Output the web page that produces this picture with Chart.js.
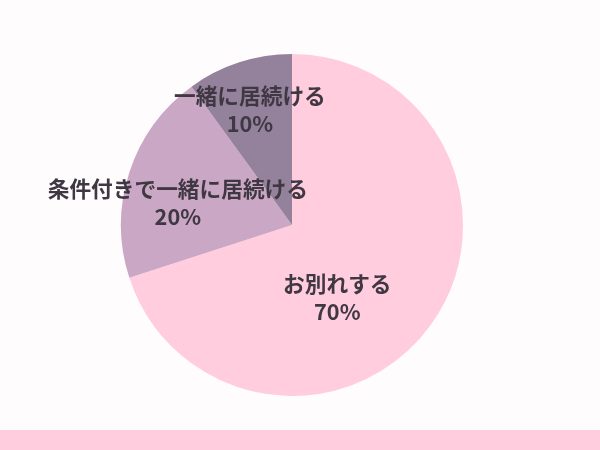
<!DOCTYPE html>
<html>
<head>
<meta charset="utf-8">
<script src="https://cdn.jsdelivr.net/npm/chart.js@4"></script>
<style>
  body { margin: 0; background: #fffcfd; }
  #wrap { width: 600px; height: 430px; position: relative; }
  #band { width: 600px; height: 20px; background: #ffcddd; }
</style>
</head>
<body>
<div id="wrap"><canvas id="pieChart" width="600" height="430"></canvas></div>
<div id="band"></div>
<script>
const categories = ["お別れする", "条件付きで一緒に居続ける", "一緒に居続ける"];
const shares = [70, 20, 10];
const sliceColors = ["#ffcddd", "#c9a7c5", "#94829c"];

// where each label sits, as radius fraction and angle (deg clockwise from top)
const labelSpots = [
  { r: 0.50, a: 148 },
  { r: 0.68, a: -79 },
  { r: 0.72, a: -20 }
];

const sliceLabels = {
  id: 'sliceLabels',
  afterDatasetsDraw(chart) {
    const ctx = chart.ctx;
    const arcs = chart.getDatasetMeta(0).data;
    ctx.save();
    ctx.fillStyle = '#3f3742';
    ctx.font = 'bold 21.7px "Noto Sans CJK JP"';
    ctx.textAlign = 'center';
    ctx.textBaseline = 'middle';
    arcs.forEach((arc, i) => {
      const spot = labelSpots[i];
      const rad = spot.a * Math.PI / 180;
      const x = arc.x + Math.sin(rad) * arc.outerRadius * spot.r;
      const y = arc.y - Math.cos(rad) * arc.outerRadius * spot.r;
      ctx.fillText(categories[i], x, y - 14);
      ctx.fillText(shares[i] + '%', x, y + 14);
    });
    ctx.restore();
  }
};

new Chart(document.getElementById('pieChart').getContext('2d'), {
  type: 'pie',
  data: {
    labels: categories,
    datasets: [{
      data: shares,
      backgroundColor: sliceColors,
      borderWidth: 0
    }]
  },
  options: {
    responsive: false,
    animation: false,
    layout: { padding: { left: 121, right: 137, top: 54, bottom: 34 } },
    plugins: {
      legend: { display: false },
      tooltip: { enabled: false }
    }
  },
  plugins: [sliceLabels]
});
</script>
</body>
</html>
